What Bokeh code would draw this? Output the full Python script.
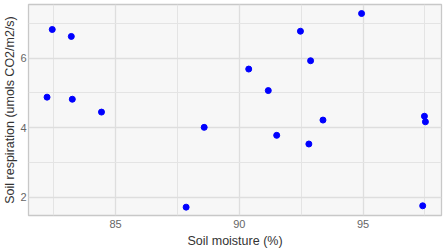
from bokeh.plotting import figure
from bokeh.models import FixedTicker, Range1d
from bokeh.embed import file_html
from bokeh.resources import INLINE

soil_moisture = [82.44, 83.21, 82.23, 83.25, 84.43, 88.58, 87.85, 90.38, 91.17,
                 92.47, 92.88, 94.94, 91.51, 92.81, 93.38, 97.48, 97.52, 97.41]
soil_respiration = [6.83, 6.63, 4.88, 4.82, 4.45, 4.01, 1.71, 5.69, 5.07,
                    6.78, 5.93, 7.29, 3.78, 3.53, 4.22, 4.33, 4.17, 1.75]
x_ticks = [85, 90, 95]
x_minor = [82.5, 87.5, 92.5, 97.5]
y_ticks = [2, 4, 6]
y_minor = [3, 5, 7]

p = figure(width=446, height=251, output_backend="svg", toolbar_location=None,
           x_range=Range1d(81.48, 98.17), y_range=Range1d(1.47, 7.55),
           min_border_left=27, min_border_right=5, min_border_top=4, min_border_bottom=36)

p.scatter(soil_moisture, soil_respiration, size=6, color="#0000FF")

p.xaxis.ticker = FixedTicker(ticks=x_ticks, minor_ticks=x_minor)
p.yaxis.ticker = FixedTicker(ticks=y_ticks, minor_ticks=y_minor)
p.xaxis.axis_label = "Soil moisture (%)"
p.yaxis.axis_label = "Soil respiration (umols CO2/m2/s)"

for ax in (p.xaxis, p.yaxis):
    ax.axis_line_color = None
    ax.major_tick_line_color = None
    ax.minor_tick_line_color = None
    ax.major_tick_out = 0
    ax.minor_tick_out = 0
    ax.major_tick_in = 0
    ax.minor_tick_in = 0
    ax.major_label_text_font = "Liberation Sans"
    ax.major_label_text_font_size = "11px"
    ax.major_label_text_color = "#666666"
    ax.axis_label_text_font = "Liberation Sans"
    ax.axis_label_text_font_size = "12.5px"
    ax.axis_label_text_font_style = "normal"
    ax.axis_label_text_color = "#333333"

p.yaxis.major_label_standoff = 2
p.yaxis.axis_label_standoff = 0
p.xaxis.major_label_standoff = 4
p.xaxis.axis_label_standoff = 3

for g in (p.xgrid, p.ygrid):
    g.grid_line_color = "#DEDEDE"
    g.grid_line_width = 1.3
    g.minor_grid_line_color = "#E4E4E4"
    g.minor_grid_line_width = 1.0

p.background_fill_color = "#F7F7F7"
p.border_fill_color = "white"
p.outline_line_color = "#C8C8C8"
p.outline_line_width = 1.3

open("out.html", "w").write(file_html(p, INLINE))
